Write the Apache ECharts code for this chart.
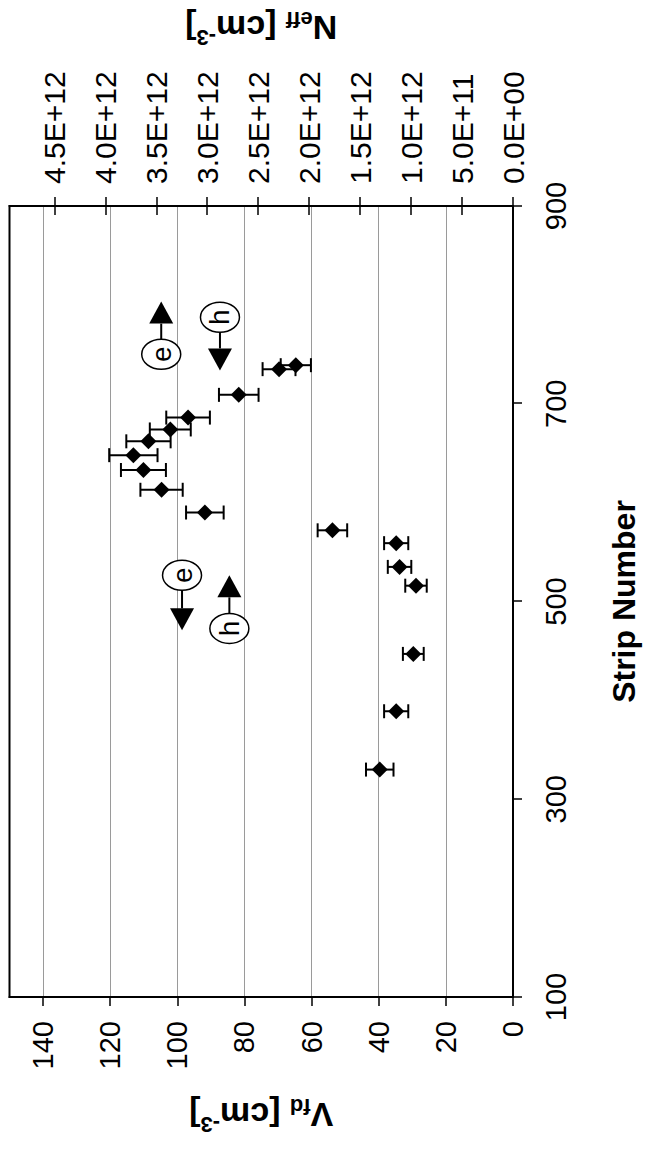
<!DOCTYPE html>
<html><head><meta charset="utf-8">
<script src="https://cdn.jsdelivr.net/npm/echarts@6/dist/echarts.min.js"></script>
<style>
html,body{margin:0;padding:0;background:#fff;overflow:hidden;width:645px;height:1155px;}
#chart{position:absolute;left:-255px;top:255px;width:1155px;height:645px;transform:rotate(-90deg);transform-origin:50% 50%;}
</style></head><body><div id="chart"></div>
<script>
// ---- data ----
const stripNumbers = [330, 389, 447, 516, 535, 559, 572, 590, 613, 633, 648, 662, 674, 686, 709, 735, 739];
const vfdValues    = [39.7, 34.8, 29.7, 28.9, 33.8, 34.8, 53.8, 91.8, 104.7, 110.1, 113.1, 108.6, 102.1, 96.8, 81.7, 69.7, 64.7];
const vfdErrors    = [4.1, 3.6, 3.1, 3.2, 3.5, 3.6, 4.4, 5.6, 6.3, 6.7, 7.2, 6.6, 6.1, 6.5, 5.9, 4.9, 4.5];
const stripTicks = [100, 300, 500, 700, 900];
const vfdTicks = [0, 20, 40, 60, 80, 100, 120, 140];
const neffTickValues = [0, 5e11, 1e12, 1.5e12, 2e12, 2.5e12, 3e12, 3.5e12, 4e12, 4.5e12];
const neffTickLabels = ['0.0E+00','5.0E+11','1.0E+12','1.5E+12','2.0E+12','2.5E+12','3.0E+12','3.5E+12','4.0E+12','4.5E+12'];
const neffMax = 4.94e12;
// annotations (carrier type markers with arrows), in data coordinates
const annoLabels = ['e', 'h', 'e', 'h'];
const annoStrip  = [750, 787.5, 526.5, 472.8];
const annoVfd    = [104.8, 87.3, 98.6, 84.5];
const annoTipStrip = [803.3, 733.7, 470.8, 526.5];

const FONT = 'Liberation Sans, Arial, sans-serif';
const chart = echarts.init(document.getElementById('chart'), null, {renderer: 'svg'});

const titleRich = {
  b: {fontSize: 34, fontWeight: 'bold', fontFamily: FONT, color: '#000', lineHeight: 40},
  s: {fontSize: 22, fontWeight: 'bold', fontFamily: FONT, color: '#000', verticalAlign: 'bottom', lineHeight: 22},
  p: {fontSize: 22, fontWeight: 'bold', fontFamily: FONT, color: '#000', verticalAlign: 'top', lineHeight: 22}
};

chart.setOption({
  animation: false,
  backgroundColor: '#fff',
  grid: {left: 158, right: 203, top: 9.5, bottom: 129, show: true, borderColor: '#000', borderWidth: 2, backgroundColor: 'transparent'},
  xAxis: {
    type: 'value', min: stripTicks[0], max: stripTicks[stripTicks.length - 1], interval: 200,
    axisLine: {show: true, onZero: false, lineStyle: {color: '#000', width: 2}},
    axisTick: {show: true, inside: false, length: 9, lineStyle: {color: '#000', width: 1.5}},
    axisLabel: {fontSize: 29, color: '#000', fontFamily: FONT, margin: 28},
    splitLine: {show: false},
    name: 'Strip Number', nameLocation: 'middle', nameGap: 95,
    nameTextStyle: {fontSize: 32, fontWeight: 'bold', color: '#000', fontFamily: FONT}
  },
  yAxis: [
    {
      type: 'value', min: 0, max: 150, interval: 20, position: 'left',
      axisLine: {show: true, lineStyle: {color: '#000', width: 2}},
      axisTick: {show: true, length: 9, customValues: vfdTicks, lineStyle: {color: '#000', width: 1.5}},
      axisLabel: {fontSize: 29, color: '#000', fontFamily: FONT, margin: 24, customValues: vfdTicks},
      splitLine: {show: true, lineStyle: {color: '#9a9a9a', width: 1}},
      name: '{b|V}{s|fd}{b| [cm}{p|-3}{b|]}', nameLocation: 'middle', nameGap: 98, nameRotate: 90,
      nameTextStyle: {rich: titleRich}
    },
    {
      type: 'value', min: 0, max: neffMax, interval: 5e11, position: 'right', alignTicks: false,
      axisLine: {show: true, lineStyle: {color: '#000', width: 2}},
      axisTick: {show: true, length: 9, customValues: neffTickValues, lineStyle: {color: '#000', width: 1.5}},
      axisLabel: {fontSize: 30, color: '#000', fontFamily: FONT, margin: 22, customValues: neffTickValues,
        formatter: function (v) { const i = Math.round(v / 5e11); return Math.abs(v - i * 5e11) < 1e9 && neffTickLabels[i] ? neffTickLabels[i] : ''; }},
      splitLine: {show: false},
      name: '{b|N}{s|eff}{b| [cm}{p|-3}{b|]}', nameLocation: 'middle', nameGap: 158, nameRotate: 90,
      nameTextStyle: {rich: titleRich}
    },
    {
      type: 'value', min: 0, max: neffMax, interval: 5e11, position: 'right', alignTicks: false,
      axisLine: {show: false},
      axisTick: {show: true, inside: true, length: 9, customValues: neffTickValues, lineStyle: {color: '#000', width: 1.5}},
      axisLabel: {show: false},
      splitLine: {show: false}
    }
  ],
  series: [
    {
      type: 'custom', yAxisIndex: 0, z: 2,
      data: stripNumbers.map((s, i) => [s, vfdValues[i] - vfdErrors[i], vfdValues[i] + vfdErrors[i]]),
      encode: {x: 0, y: [1, 2]},
      renderItem: function (params, api) {
        const x = api.value(0);
        const p1 = api.coord([x, api.value(1)]);
        const p2 = api.coord([x, api.value(2)]);
        const cap = 7;
        const st = {stroke: '#000', lineWidth: 2};
        return {type: 'group', children: [
          {type: 'line', shape: {x1: p1[0], y1: p1[1], x2: p2[0], y2: p2[1]}, style: st},
          {type: 'line', shape: {x1: p1[0] - cap, y1: p1[1], x2: p1[0] + cap, y2: p1[1]}, style: st},
          {type: 'line', shape: {x1: p2[0] - cap, y1: p2[1], x2: p2[0] + cap, y2: p2[1]}, style: st}
        ]};
      }
    },
    {
      type: 'scatter', yAxisIndex: 0, z: 3,
      data: stripNumbers.map((s, i) => [s, vfdValues[i]]),
      symbol: 'diamond', symbolSize: 16,
      itemStyle: {color: '#000', opacity: 1}
    },
    {
      type: 'custom', yAxisIndex: 0, z: 4,
      data: annoLabels.map((l, i) => [annoStrip[i], annoVfd[i], annoTipStrip[i]]),
      encode: {x: 0, y: 1},
      renderItem: function (params, api) {
        const c = api.coord([api.value(0), api.value(1)]);
        const t = api.coord([api.value(2), api.value(1)]);
        const dir = t[0] > c[0] ? 1 : -1;
        const rx = 15, ry = 19.5, head = 22, hw = 12;
        const baseX = t[0] - dir * head;
        return {type: 'group', children: [
          {type: 'line', shape: {x1: c[0] + dir * rx, y1: c[1], x2: baseX, y2: c[1]}, style: {stroke: '#000', lineWidth: 2}},
          {type: 'polygon', shape: {points: [[t[0], t[1]], [baseX, t[1] - hw], [baseX, t[1] + hw]]}, style: {fill: '#000'}},
          {type: 'ellipse', shape: {cx: c[0], cy: c[1], rx: rx, ry: ry}, style: {fill: '#fff', stroke: '#000', lineWidth: 1.5}},
          {type: 'text', x: c[0], y: c[1], style: {text: annoLabels[params.dataIndex], fontSize: 28, fontFamily: FONT, fill: '#000', align: 'center', verticalAlign: 'middle'}}
        ]};
      }
    }
  ]
});
</script></body></html>
